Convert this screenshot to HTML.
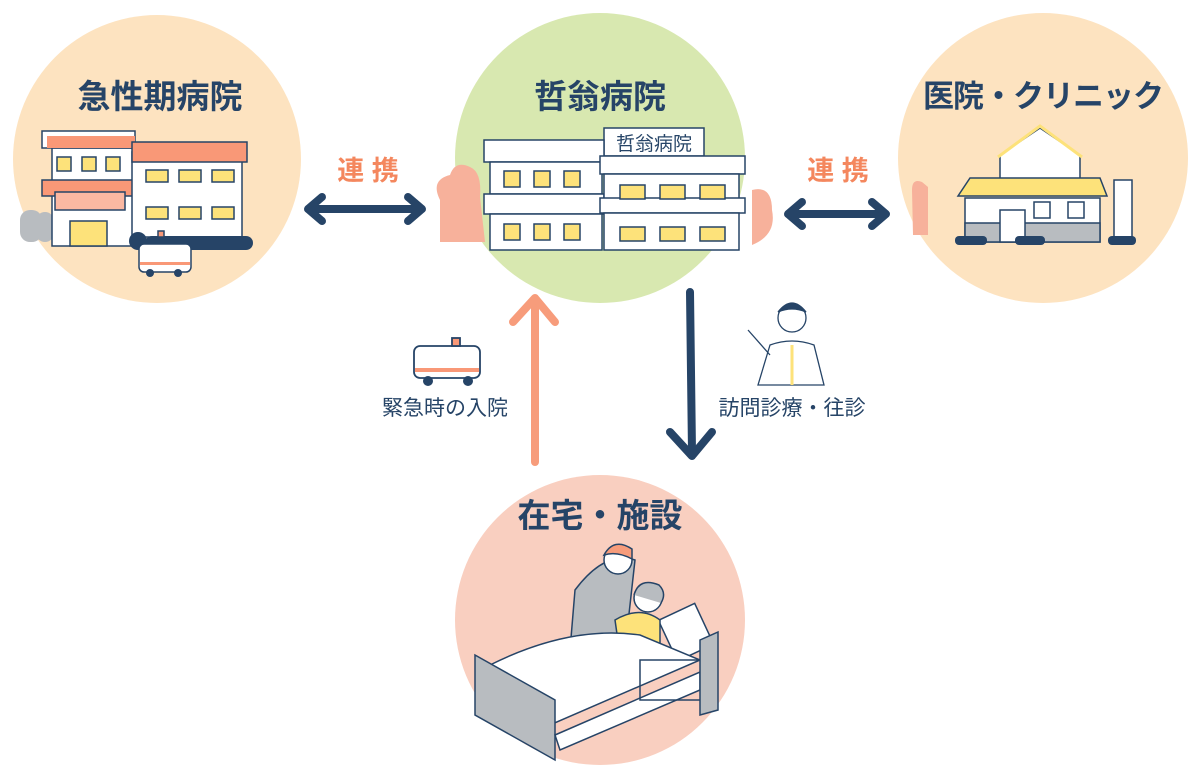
<!DOCTYPE html>
<html><head><meta charset="utf-8"><style>
html,body{margin:0;padding:0;background:#fff}
svg{display:block}
text{font-family:"Liberation Sans","Noto Sans CJK JP",sans-serif}
</style></head><body>
<svg width="1200" height="775" viewBox="0 0 1200 775" xmlns="http://www.w3.org/2000/svg">
<circle cx="157" cy="159" r="144" fill="#fde3c0"/>
<circle cx="600" cy="158" r="145" fill="#d8e8b0"/>
<circle cx="1043" cy="158" r="145" fill="#fde3c0"/>
<circle cx="600" cy="620" r="145" fill="#f9cfc0"/>

<g fill="#264467" font-weight="bold" font-size="33" text-anchor="middle">
<text x="160" y="108">急性期病院</text>
<text x="600" y="108">哲翁病院</text>
<text x="1043" y="107" font-size="31" letter-spacing="-1">医院・クリニック</text>
<text x="600" y="527">在宅・施設</text>
</g>
<g fill="#f4875e" font-weight="bold" font-size="27" text-anchor="middle">
<text x="368" y="180">連 携</text>
<text x="838" y="180">連 携</text>
</g>
<g fill="#264467" font-size="21" text-anchor="middle">
<text x="445" y="415">緊急時の入院</text>
<text x="792" y="415">訪問診療・往診</text>
</g>

<g stroke="#264467" stroke-width="8" fill="none" stroke-linecap="round" stroke-linejoin="round">
<line x1="312" y1="209" x2="418" y2="209"/>
<polyline points="322,197 308,209 322,221"/>
<polyline points="408,197 422,209 408,221"/>
<line x1="792" y1="214" x2="882" y2="214"/>
<polyline points="802,202 788,214 802,226"/>
<polyline points="872,202 886,214 872,226"/>
<line x1="690" y1="292" x2="692" y2="452"/>
<polyline points="670,432 692,456 712,432"/>
</g>
<g stroke="#f79c7b" stroke-width="8" fill="none" stroke-linecap="round" stroke-linejoin="round">
<line x1="535" y1="462" x2="535" y2="300"/>
<polyline points="513,322 535,298 555,322"/>
</g>

<!-- left hospital -->
<g stroke="#264467" stroke-width="1.5">
<rect x="20" y="210" width="22" height="32" rx="10" fill="#b8bcc0" stroke="none"/>
<rect x="36" y="212" width="18" height="30" rx="9" fill="#b8bcc0" stroke="none"/>
<rect x="52" y="148" width="84" height="98" fill="#fff"/>
<rect x="42" y="131" width="93" height="17" fill="#fff"/>
<rect x="47" y="136" width="88" height="12" fill="#f99877" stroke="none"/>
<rect x="42" y="180" width="93" height="16" fill="#f99877"/>
<rect x="55" y="192" width="70" height="18" fill="#fbb8a2"/>
<rect x="70" y="221" width="37" height="25" fill="#fde27a"/>
<rect x="132" y="152" width="110" height="85" fill="#fff"/>
<rect x="132" y="142" width="115" height="20" fill="#f99877"/>
<g fill="#fde27a">
<rect x="57" y="157" width="14" height="14"/><rect x="82" y="157" width="14" height="14"/><rect x="106" y="157" width="14" height="14"/>
<rect x="146" y="170" width="22" height="12"/><rect x="179" y="170" width="22" height="12"/><rect x="212" y="170" width="22" height="12"/>
<rect x="146" y="207" width="22" height="12"/><rect x="179" y="207" width="22" height="12"/><rect x="212" y="207" width="22" height="12"/>
</g>
</g>
<g fill="#264467">
<rect x="145" y="236" width="108" height="14" rx="7"/>
<circle cx="138" cy="241" r="9"/>
</g>
<g stroke="#264467" stroke-width="1.5">
<rect x="139" y="244" width="52" height="28" rx="5" fill="#fff"/>
<rect x="140" y="262" width="50" height="3" fill="#f99877" stroke="none"/>
<rect x="158" y="231" width="6" height="6" fill="#f99877"/>
</g>
<circle cx="150" cy="273" r="4" fill="#264467"/><circle cx="178" cy="273" r="4" fill="#264467"/>

<!-- center hospital -->
<path d="M440 200 q-10-20 10-25 q5-15 20-8 q12 5 10 30 l5 45 h-45z" fill="#f7b19b"/>
<path d="M752 190 q20 -5 20 20 q5 25-20 35 z" fill="#f7b19b"/>
<g stroke="#264467" stroke-width="1.5">
<rect x="604" y="128" width="100" height="28" fill="#fff"/>
<text x="654" y="150" font-size="19" fill="#264467" stroke="none" text-anchor="middle">哲翁病院</text>
<rect x="484" y="140" width="120" height="22" fill="#fff"/>
<rect x="490" y="162" width="112" height="32" fill="#fff"/>
<rect x="484" y="194" width="120" height="20" fill="#fff"/>
<rect x="490" y="214" width="112" height="36" fill="#fff"/>
<rect x="600" y="156" width="145" height="18" fill="#fff"/>
<rect x="604" y="174" width="135" height="38" fill="#fff"/>
<rect x="600" y="198" width="145" height="15" fill="#fff"/>
<rect x="604" y="213" width="135" height="37" fill="#fff"/>
<g fill="#fde27a">
<rect x="504" y="171" width="16" height="16"/><rect x="534" y="171" width="16" height="16"/><rect x="564" y="171" width="16" height="16"/>
<rect x="504" y="224" width="16" height="16"/><rect x="534" y="224" width="16" height="16"/><rect x="564" y="224" width="16" height="16"/>
<rect x="620" y="185" width="25" height="14"/><rect x="660" y="185" width="25" height="14"/><rect x="700" y="185" width="25" height="14"/>
<rect x="620" y="227" width="25" height="14"/><rect x="660" y="227" width="25" height="14"/><rect x="700" y="227" width="25" height="14"/>
</g>
</g>

<!-- clinic -->
<path d="M912 190 q0-12 10-8 l6 5 v48 h-15 z" fill="#f7b19b"/>
<g stroke="#264467" stroke-width="1.5">
<polygon points="1000,155 1040,128 1080,155 1080,180 1000,180" fill="#fff"/>
<polyline points="998,157 1040,126 1082,157" stroke="#fde27a" stroke-width="3" fill="none"/>
<rect x="965" y="198" width="135" height="44" fill="#fff"/>
<rect x="965" y="223" width="135" height="19" fill="#b8bcc0"/>
<polygon points="970,178 1100,178 1107,196 958,196" fill="#fde27a"/>
<rect x="1000" y="210" width="25" height="32" fill="#fff"/>
<rect x="1034" y="202" width="16" height="16" fill="#fff"/><rect x="1068" y="202" width="16" height="16" fill="#fff"/>
<rect x="1114" y="180" width="18" height="62" fill="#fff"/>
</g>
<g fill="#264467"><rect x="955" y="236" width="32" height="9" rx="4"/><rect x="1015" y="236" width="30" height="9" rx="4"/><rect x="1108" y="236" width="28" height="9" rx="4"/></g>

<!-- ambulance -->
<g stroke="#264467" stroke-width="1.8">
<rect x="414" y="346" width="66" height="32" rx="6" fill="#fff"/>
<rect x="415" y="368" width="64" height="4" fill="#f99877" stroke="none"/>
<rect x="452" y="338" width="8" height="8" fill="#f99877"/>
</g>
<circle cx="428" cy="381" r="5" fill="#264467"/><circle cx="468" cy="381" r="5" fill="#264467"/>

<!-- doctor -->
<g stroke="#264467" stroke-width="1.3" fill="#fff">
<path d="M770 345 l-12 40 h66 l-10-40 q-22-8-44 0 z"/>
<circle cx="792" cy="318" r="14"/>
<path d="M778 312 q14-18 28 0 q-14-6-28 0" fill="#264467"/>
<line x1="792" y1="345" x2="792" y2="385" stroke="#fde27a" stroke-width="3"/>
<line x1="748" y1="330" x2="770" y2="355"/>
</g>

<!-- bed scene -->
<g stroke="#264467" stroke-width="1.5">
<path d="M575 590 q30-40 60-30 l-10 90 h-55 z" fill="#b8bcc0"/>
<circle cx="618" cy="560" r="14" fill="#fff"/>
<path d="M604 555 q10-18 28-6 l0 10 q-15-8-28-4z" fill="#f79c7b"/>
<rect x="665" y="610" width="40" height="45" fill="#fff" transform="rotate(-25 685 630)"/>
<circle cx="648" cy="598" r="14" fill="#fff"/>
<path d="M634 595 q5-18 25-10 q8 8 2 18" fill="#b8bcc0"/>
<path d="M615 620 q25-15 45 0 l0 35 h-40 z" fill="#fde27a"/>
<path d="M490 665 q80-40 150-30 l60 25 -150 65 z" fill="#fff"/>
<polygon points="475,655 555,700 555,760 475,715" fill="#b8bcc0"/>
<polygon points="555,735 700,672 700,690 560,750" fill="#fff"/>
<rect x="640" y="660" width="70" height="40" fill="none"/>
<polygon points="700,640 718,632 718,710 700,715" fill="#b8bcc0"/>
</g>
</svg>
</body></html>
